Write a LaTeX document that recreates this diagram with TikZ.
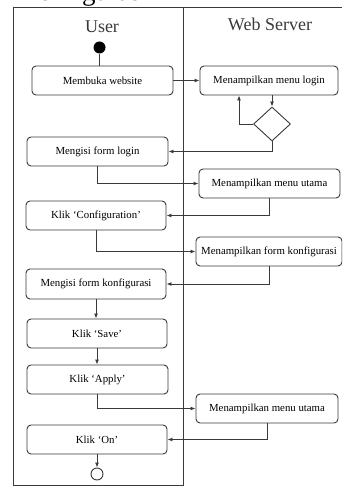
\documentclass[tikz,border=0pt]{standalone}
\usepackage{fontspec}
\setmainfont{Liberation Serif}
\usetikzlibrary{arrows.meta,shapes.geometric,calc}
\definecolor{ln}{HTML}{3A3A3A}
\tikzset{
  act/.style={draw=ln, line width=0.9pt, rounded corners=4pt, minimum height=29pt, inner sep=1pt, font=\fontsize{10.8}{12}\selectfont, text=black},
  arr/.style={draw=ln, line width=0.9pt, -{Latex[length=5pt,width=4pt]}},
  lane/.style={draw=ln, line width=1pt},
  title/.style={font=\fontsize{18}{20}\selectfont, text=ln}
}
\begin{document}
\begin{tikzpicture}[x=1pt,y=-1pt]
\useasboundingbox (0,0) rectangle (342,486);
\clip (0,0) rectangle (342,486);
\fill[white] (0,0) rectangle (342,486);
\node[anchor=base west, font=\fontsize{27}{30}\selectfont, inner sep=0pt] (cap) at (19,1) {Konfigurasi};
% swimlanes
\draw[lane] (13,486) -- (13,8) -- (342,8);
\draw[lane] (183,8) -- (183,486);
\draw[lane] (13,485) -- (183,485);
\node[title] (tu) at (102,27) {User};
\node[title] (tw) at (270,24) {Web Server};
% nodes
\node[circle, fill=black, minimum size=12pt, inner sep=0pt] (start) at (99.5,47.5) {};
\node[act, minimum width=141pt] (m1) at (102.5,80.5) {Membuka website};
\node[act, minimum width=138pt] (s1) at (269,80.5) {Menampilkan menu login};
\node[diamond, draw=ln, line width=0.9pt, minimum width=37pt, minimum height=34pt, inner sep=0pt] (d) at (272,124) {};
\node[act, minimum width=141pt] (m2) at (97.5,151.5) {Mengisi form login};
\node[act, minimum width=141pt] (s2) at (269.5,183.5) {Menampilkan menu utama};
\node[act, minimum width=140pt] (m3) at (96,215.5) {Klik ‘Configuration’};
\node[act, minimum width=146pt] (s3) at (269,251.5) {Menampilkan form konfigurasi};
\node[act, minimum width=140pt, minimum height=30pt] (m4) at (96,284) {Mengisi form konfigurasi};
\node[act, minimum width=140pt] (m5) at (97,333.5) {Klik ‘Save’};
\node[act, minimum width=141pt] (m6) at (97.5,379.5) {Klik ‘Apply’};
\node[act, minimum width=142pt] (s4) at (267,408.5) {Menampilkan menu utama};
\node[act, minimum width=140pt] (m7) at (97,439.5) {Klik ‘On’};
\node[circle, draw=ln, line width=0.9pt, minimum size=12pt, inner sep=0pt] (end) at (97,474) {};
\coordinate (loopx) at (239,0);
% connectors
\draw[draw=ln, line width=0.6pt] (start) -- (start |- m1.north);
\draw[arr] (m1.east) -- (s1.west |- m1.east);
\draw[arr] (d.north |- s1.south) -- (d.north);
\draw[arr] (d.west) -| (loopx |- s1.south);
\draw[arr] (d.south) |- (m2.east);
\draw[arr] (m2.south) |- (s2.west);
\draw[arr] (s2.south) |- (m3.east);
\draw[arr] (m3.south) |- (s3.west);
\draw[arr] (s3.south) |- (m4.east);
\draw[arr] (m4.south) -- (m5.north -| m4.south);
\draw[arr] (m5.south) -- (m6.north -| m5.south);
\draw[arr] (m6.south) |- (s4.west);
\draw[arr] (s4.south) |- (m7.east);
\draw[arr] (m7.south) -- (end.north);
\end{tikzpicture}
\end{document}
